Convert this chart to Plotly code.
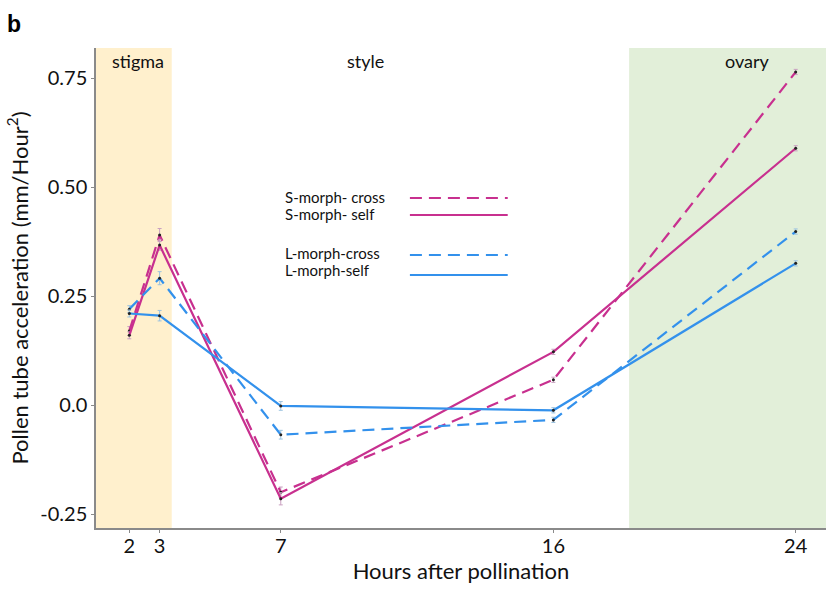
import plotly.graph_objects as go

hours = [2, 3, 7, 16, 24]
s_cross = [0.170, 0.390, -0.200, 0.058, 0.764]
s_self = [0.160, 0.367, -0.215, 0.122, 0.589]
l_cross = [0.220, 0.291, -0.068, -0.034, 0.398]
l_self = [0.210, 0.205, -0.002, -0.012, 0.325]
s_cross_err = [0.010, 0.015, 0.012, 0.006, 0.006]
s_self_err = [0.008, 0.012, 0.014, 0.006, 0.006]
l_cross_err = [0.008, 0.015, 0.010, 0.006, 0.006]
l_self_err = [0.008, 0.012, 0.010, 0.006, 0.006]
x_ticks = [2, 3, 7, 16, 24]
y_ticks = [-0.25, 0.0, 0.25, 0.50, 0.75]
y_tick_labels = ["-0.25", "0.0", "0.25", "0.50", "0.75"]
legend_names = ["S-morph- cross", "S-morph- self", "L-morph-cross", "L-morph-self"]
regions = ["stigma", "style", "ovary"]

PINK = "#C8308F"
BLUE = "#3391EC"
FONT = "Lato"

fig = go.Figure()

series = [
    (s_cross, s_cross_err, PINK, "dash"),
    (s_self, s_self_err, PINK, "solid"),
    (l_cross, l_cross_err, BLUE, "dash"),
    (l_self, l_self_err, BLUE, "solid"),
]
for (vals, err, col, dash), name in zip(series, legend_names):
    fig.add_trace(go.Scatter(
        x=hours, y=vals, mode="lines+markers", name=name,
        line=dict(color=col, width=2.2, dash="12px,7px" if dash == "dash" else "solid"),
        marker=dict(size=3, color="#222222"),
        error_y=dict(type="data", array=err, visible=True, color="#C9A0C0" if col == PINK else "#9CC3E0",
                     thickness=1, width=2),
        showlegend=False,
    ))

# background regions
fig.add_shape(type="rect", xref="x", yref="paper", x0=0.9, x1=3.4, y0=0, y1=1,
              fillcolor="#FFF0CD", line_width=0, layer="below")
fig.add_shape(type="rect", xref="x", yref="paper", x0=18.5, x1=25.0, y0=0, y1=1,
              fillcolor="#E2EFD9", line_width=0, layer="below")

fig.add_annotation(x=2.27, y=1.0, xref="x", yref="paper", text=regions[0], showarrow=False,
                   yanchor="top", font=dict(family=FONT, size=18, color="#111"))
fig.add_annotation(x=9.8, y=1.0, xref="x", yref="paper", text=regions[1], showarrow=False,
                   yanchor="top", font=dict(family=FONT, size=18, color="#111"))
fig.add_annotation(x=22.4, y=1.0, xref="x", yref="paper", text=regions[2], showarrow=False,
                   yanchor="top", font=dict(family=FONT, size=18, color="#111"))

# custom legend: text left, line sample right
leg_y = [0.690, 0.654, 0.573, 0.5375]
line_y = [0.6875, 0.652, 0.569, 0.527]
for name, (vals, err, col, dash), ty, ly in zip(legend_names, series, leg_y, line_y):
    fig.add_annotation(x=0.256, y=ty, xref="paper", yref="paper", text=name, showarrow=False,
                       xanchor="left", yanchor="middle", font=dict(family=FONT, size=15, color="#111"))
    fig.add_shape(type="line", xref="paper", yref="paper", x0=0.430, x1=0.564, y0=ly, y1=ly,
                  line=dict(color=col, width=2, dash="12px,7px" if dash == "dash" else "solid"))

fig.add_annotation(x=-0.124, y=1.082, xref="paper", yref="paper", text="<b>b</b>", showarrow=False,
                   xanchor="left", yanchor="top", font=dict(family="Liberation Sans", size=23, color="#000"))

fig.update_layout(
    width=826, height=590,
    margin=dict(l=96, r=0, t=48, b=62),
    paper_bgcolor="white", plot_bgcolor="white",
    font=dict(family=FONT, color="#111"),
    xaxis=dict(range=[0.9, 25.0], tickvals=x_ticks, ticktext=[str(t) for t in x_ticks],
               automargin=False,
               showgrid=False, zeroline=False, showline=True, linecolor="#8A8A8A", linewidth=1.5,
               ticks="outside", ticklen=3, tickcolor="#8A8A8A", ticklabelstandoff=-4,
               tickfont=dict(family=FONT, size=20, color="#111"),
               title=dict(text="Hours after pollination", font=dict(family=FONT, size=22, color="#111"),
                          standoff=4)),
    yaxis=dict(range=[-0.282, 0.819], tickvals=y_ticks, ticktext=y_tick_labels,
               automargin=False,
               showgrid=False, zeroline=False, showline=True, linecolor="#8A8A8A", linewidth=1.5,
               ticks="outside", ticklen=3, tickcolor="#8A8A8A",
               tickfont=dict(family=FONT, size=20, color="#111"),
               title=dict(text="Pollen tube acceleration (mm/Hour<sup>2</sup>)",
                          font=dict(family=FONT, size=22, color="#111"), standoff=6)),
)

fig.write_html("out.html", post_script="document.body.style.margin='0';",
               config={"displayModeBar": False})
